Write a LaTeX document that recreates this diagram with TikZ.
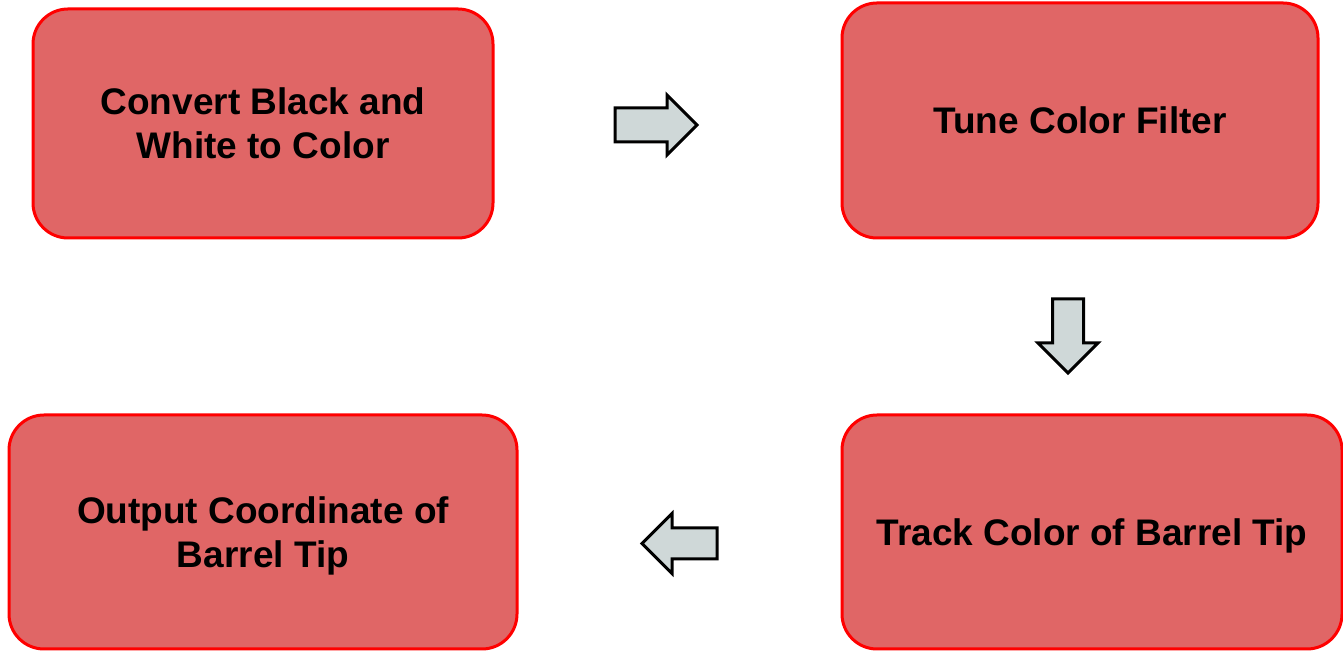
\documentclass[tikz,border=0pt]{standalone}
\usepackage{fontspec}
\setmainfont{Liberation Sans}
\usetikzlibrary{positioning}
\definecolor{boxfill}{HTML}{E06666}
\definecolor{boxline}{HTML}{FF0000}
\definecolor{arrowfill}{HTML}{CFD8D8}
\tikzset{
  stepbox/.style={
    draw=boxline, fill=boxfill, line width=3pt,
    rounded corners=35pt, inner sep=0pt, align=center,
    font=\fontsize{37}{44}\selectfont\bfseries
  },
  lowbox/.style={stepbox, text depth=-4pt},
  blockarrow/.style={draw=black, fill=arrowfill, line width=3pt, line join=miter},
}
\begin{document}
\begin{tikzpicture}[x=1pt, y=1pt]
\useasboundingbox (0,0) rectangle (1343,652);

% the four processing steps
\node[stepbox, minimum width=460pt, minimum height=229pt] (convert) at (263,528.5)
  {Convert Black and\\White to Color};
\node[stepbox, minimum width=476pt, minimum height=235pt] (tune) at (1080,531.5)
  {Tune Color Filter};
\node[lowbox, minimum width=500pt, minimum height=234pt] (track) at (1092,120)
  {Track Color of Barrel Tip};
\node[lowbox, minimum width=508pt, minimum height=234pt] (output) at (263,120)
  {Output Coordinate of\\Barrel Tip};

% block arrows between the steps
\foreach \X/\Y/\ang/\L/\w in {656/527/0/41/17, 1068/316/-90/37/15.5, 679.5/108.5/180/37.5/15.5}{
  \begin{scope}[shift={(\X,\Y)}, rotate=\ang]
    \draw[blockarrow] (-\L,-\w) -- ({\L-30},-\w) -- ({\L-30},-30) -- (\L,0)
      -- ({\L-30},30) -- ({\L-30},\w) -- (-\L,\w) -- cycle;
  \end{scope}
}

\end{tikzpicture}
\end{document}
